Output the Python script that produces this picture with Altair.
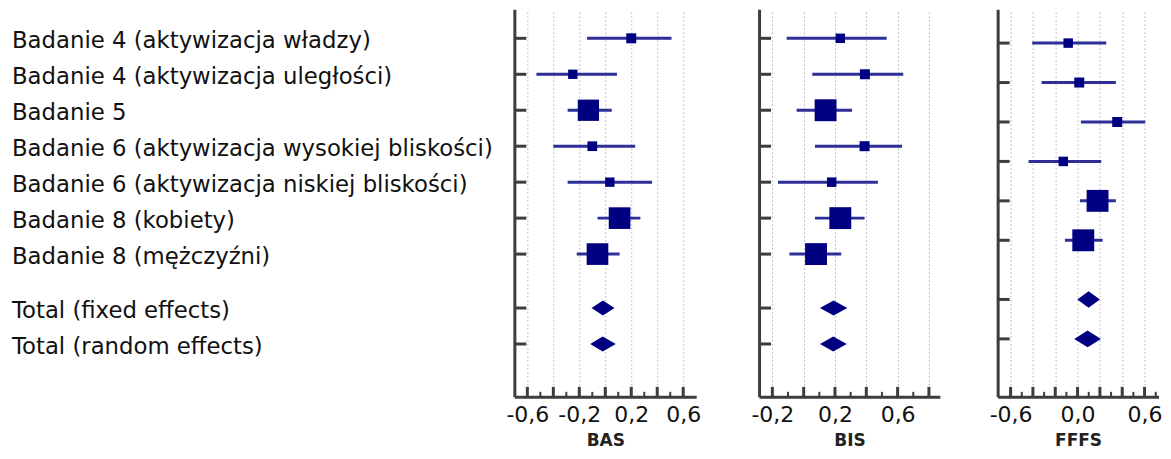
import altair as alt
import pandas as pd

labels = [
    "Badanie 4 (aktywizacja władzy)",
    "Badanie 4 (aktywizacja uległości)",
    "Badanie 5",
    "Badanie 6 (aktywizacja wysokiej bliskości)",
    "Badanie 6 (aktywizacja niskiej bliskości)",
    "Badanie 8 (kobiety)",
    "Badanie 8 (mężczyźni)",
    "Total (fixed effects)",
    "Total (random effects)",
]
studies_all = labels[:7]
totals = labels[7:]

# ---- BAS ----
bas_studies = studies_all
bas_est = [0.20, -0.25, -0.13, -0.10, 0.035, 0.11, -0.06]
bas_lo = [-0.14, -0.53, -0.29, -0.40, -0.29, -0.06, -0.22]
bas_hi = [0.51, 0.09, 0.05, 0.23, 0.36, 0.27, 0.11]
bas_w = [5.0, 4.4, 22.7, 4.7, 4.4, 23.5, 23.5]
bas_tot_est = [-0.018, -0.020]
bas_tot_lo = [-0.106, -0.116]
bas_tot_hi = [0.071, 0.081]
bas_major = [-0.6, -0.4, -0.2, 0.0, 0.2, 0.4, 0.6]
bas_labeled = [-0.6, -0.2, 0.2, 0.6]
bas_minor = [-0.5, -0.3, -0.1, 0.1, 0.3, 0.5]
bas_domain = [-0.70, 0.70]

# ---- BIS ----
bis_studies = studies_all
bis_est = [0.234, 0.391, 0.140, 0.389, 0.179, 0.234, 0.079]
bis_lo = [-0.109, 0.055, -0.045, 0.072, -0.164, 0.072, -0.091]
bis_hi = [0.530, 0.636, 0.309, 0.628, 0.474, 0.389, 0.240]
bis_w = [4.5, 5.0, 24.0, 5.0, 4.5, 24.0, 24.0]
bis_tot_est = [0.191, 0.189]
bis_tot_lo = [0.104, 0.104]
bis_tot_hi = [0.279, 0.275]
bis_major = [-0.2, 0.0, 0.2, 0.4, 0.6, 0.8]
bis_labeled = [-0.2, 0.2, 0.6]
bis_minor = [-0.1, 0.1, 0.3, 0.5, 0.7]
bis_domain = [-0.285, 0.87]

# ---- FFFS ----
fffs_studies = [studies_all[i] for i in (0, 1, 3, 4, 5, 6)]
fffs_est = [-0.084, 0.015, 0.355, -0.128, 0.179, 0.051]
fffs_lo = [-0.406, -0.322, 0.030, -0.439, 0.021, -0.113]
fffs_hi = [0.257, 0.343, 0.606, 0.212, 0.343, 0.224]
fffs_w = [4.5, 5.0, 5.0, 4.5, 24.0, 24.0]
fffs_tot_est = [0.099, 0.090]
fffs_tot_lo = [-0.003, -0.030]
fffs_tot_hi = [0.200, 0.209]
fffs_major = [-0.6, -0.4, -0.2, 0.0, 0.2, 0.4, 0.6]
fffs_labeled = [-0.6, 0.0, 0.6]
fffs_minor = [-0.5, -0.3, -0.1, 0.1, 0.3, 0.5, 0.7]
fffs_domain = [-0.716, 0.725]

# ---- styles ----
H = 388
AX = "#3d3d3d"
MARK = "#000080"
LINE = "#2e2e98"
FONT = "DejaVu Sans"
DH = 0.21  # diamond half-height in row units


def rows_for(n):
    return [i + 1 for i in range(n)] + [n + 1.5, n + 2.5]


def panel(title, studies, est, lo, hi, w, t_est, t_lo, t_hi,
          xdom, major, labeled, minor, width, top_pad):
    n = len(studies)
    rr = rows_for(n)
    sdf = pd.DataFrame({"study": studies, "row": rr[:n], "est": est,
                        "lo": lo, "hi": hi, "w": w})
    pts = []
    for s, r, e, l, h in zip(totals, rr[n:], t_est, t_lo, t_hi):
        pts.append({"study": s, "x": l, "y": r, "y2": r})
        pts.append({"study": s, "x": e, "y": r - DH, "y2": r + DH})
        pts.append({"study": s, "x": h, "y": r, "y2": r})
    ddf = pd.DataFrame(pts)
    rdf = pd.DataFrame({"row": rr})
    xs = alt.Scale(domain=xdom, nice=False, zero=False)
    ys = alt.Scale(domain=[1 - top_pad, n + 2.5 + 1.47], nice=False, zero=False, reverse=True)
    lab_list = "[" + ",".join(repr(v) for v in labeled) + "]"
    label_expr = (
        f"indexof({lab_list}, datum.value) >= 0 ? "
        "((datum.value < 0 ? '-' : '') + replace(format(abs(datum.value), '.1f'), '.', ',')) : ''"
    )
    xaxis = alt.Axis(
        values=major, labelExpr=label_expr, grid=True, gridDash=[1, 3],
        gridColor="#8a8a8a", gridWidth=1, ticks=False, tickSize=0,
        domain=True, domainColor=AX, domainWidth=3, labelOverlap=False,
        labelFlush=False, labelFont=FONT, labelFontSize=22, labelColor="#111111",
        labelPadding=8, title=title, titleFont=FONT, titleFontSize=17,
        titleFontWeight="bold", titleColor="#222222", titlePadding=7,
    )
    yaxis = alt.Axis(labels=False, ticks=False, tickSize=0, grid=False,
                     domain=True, domainColor=AX, domainWidth=3, title=None)

    ci = alt.Chart(sdf).mark_rule(color=LINE, strokeWidth=3).encode(
        x=alt.X("lo:Q", scale=xs, axis=xaxis),
        x2="hi:Q",
        y=alt.Y("row:Q", scale=ys, axis=yaxis),
    )
    sq = alt.Chart(sdf).mark_point(shape="square", filled=True, color=MARK,
                                   opacity=1, strokeWidth=0).encode(
        x=alt.X("est:Q", scale=xs, axis=xaxis),
        y=alt.Y("row:Q", scale=ys, axis=yaxis),
        size=alt.Size("w:Q", scale=alt.Scale(domain=[0, 25], range=[0, 500]), legend=None),
    )
    dia = alt.Chart(ddf).mark_area(color=MARK, opacity=1, orient="vertical").encode(
        x=alt.X("x:Q", scale=xs, axis=xaxis),
        y=alt.Y("y:Q", scale=ys, axis=yaxis),
        y2="y2:Q",
        detail="study:N",
    )
    rt = alt.Chart(rdf).mark_rule(color=AX, strokeWidth=3).encode(
        y=alt.Y("row:Q", scale=ys, axis=yaxis),
        x=alt.value(0), x2=alt.value(12),
    )
    mj = alt.Chart(pd.DataFrame({"v": major})).mark_rule(color=AX, strokeWidth=3).encode(
        x=alt.X("v:Q", scale=xs, axis=xaxis),
        y=alt.value(H - 10), y2=alt.value(H),
    )
    mn = alt.Chart(pd.DataFrame({"v": minor})).mark_rule(color=AX, strokeWidth=2).encode(
        x=alt.X("v:Q", scale=xs, axis=xaxis),
        y=alt.value(H - 5), y2=alt.value(H),
    )
    return alt.layer(ci, rt, mj, mn, sq, dia).properties(width=width, height=H)


bas = panel("BAS", bas_studies, bas_est, bas_lo, bas_hi, bas_w,
            bas_tot_est, bas_tot_lo, bas_tot_hi, bas_domain,
            bas_major, bas_labeled, bas_minor, 182, 0.81)
bis = panel("BIS", bis_studies, bis_est, bis_lo, bis_hi, bis_w,
            bis_tot_est, bis_tot_lo, bis_tot_hi, bis_domain,
            bis_major, bis_labeled, bis_minor, 181, 0.81)
fffs = panel("FFFS", fffs_studies, fffs_est, fffs_lo, fffs_hi, fffs_w,
             fffs_tot_est, fffs_tot_lo, fffs_tot_hi, fffs_domain,
             fffs_major, fffs_labeled, fffs_minor, 161, 0.86)

ldf = pd.DataFrame({"label": labels, "row": rows_for(7)})
lab = alt.Chart(ldf).mark_text(align="left", baseline="middle", font=FONT,
                               fontSize=22.8, color="#111111", dy=3).encode(
    x=alt.value(0),
    y=alt.Y("row:Q", scale=alt.Scale(domain=[0.19, 7 + 2.5 + 1.47], nice=False, zero=False, reverse=True), axis=None),
    text="label:N",
).properties(width=490, height=H)

pair = alt.hconcat(bas, bis, spacing=48.9).resolve_scale(x="independent", y="independent")
trio = alt.hconcat(pair, fffs, spacing=48.7).resolve_scale(x="independent", y="independent")
chart = (
    alt.hconcat(lab, trio, spacing=3.8)
    .resolve_scale(x="independent", y="independent")
    .properties(padding={"left": 4, "top": 1, "right": 0, "bottom": 0})
    .configure_view(stroke=None)
)

chart.save("out.html", embed_options={"renderer": "svg", "actions": False})
